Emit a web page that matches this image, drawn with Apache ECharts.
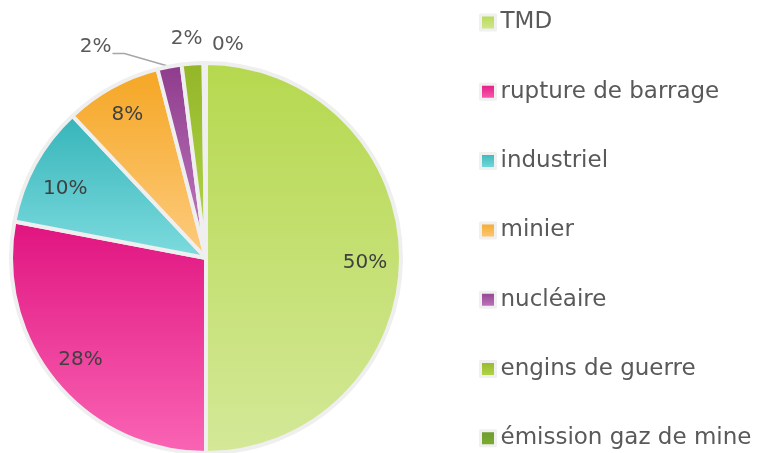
<!DOCTYPE html>
<html>
<head>
<meta charset="utf-8">
<script src="https://cdn.jsdelivr.net/npm/echarts@6/dist/echarts.min.js"></script>
<style>
  html, body { margin: 0; padding: 0; background: #fff; }
  #chart { width: 766px; height: 453px; }
</style>
</head>
<body>
<div id="chart"></div>
<script>
// categories and values (share in %)
const categories = [
  "TMD",
  "rupture de barrage",
  "industriel",
  "minier",
  "nucléaire",
  "engins de guerre",
  "émission gaz de mine",
];
const values = [50, 28, 10, 8, 2, 1.8, 0.2];

// top / bottom colours of each slice gradient
const topColors = ["#b5d84e", "#e0137f", "#35b4b9", "#f5a623", "#8e3b8b", "#93b527", "#6a9a29"];
const bottomColors = ["#d4e898", "#fa65b5", "#7edcdf", "#fdcc80", "#c27fc4", "#b5d84e", "#7fae35"];

// slices whose label sits inside
const insideLabel = [true, true, true, true, false, false, false];

const font = "'DejaVu Sans', sans-serif";

function grad(i) {
  return {
    type: "linear", x: 0, y: 0, x2: 0, y2: 1,
    colorStops: [
      { offset: 0, color: topColors[i] },
      { offset: 1, color: bottomColors[i] },
    ],
  };
}

const pieData = categories.map((name, i) => ({
  name: name,
  value: values[i],
  itemStyle: { color: grad(i) },
  label: { show: !insideLabel[i] },
  labelLine: { show: !insideLabel[i], lineStyle: { opacity: i === 4 ? 1 : 0 } },
}));

const labelData = categories.map((name, i) => ({
  name: name,
  value: values[i],
  label: { show: insideLabel[i] },
}));

// small nudges of the inside labels
const insideShift = [[-4, 5], [0, -2], [2, 9], [0, 0]];

const chart = echarts.init(document.getElementById("chart"));
chart.setOption({
  animation: false,
  legend: {
    orient: "vertical",
    left: 474,
    top: 11,
    padding: [0, 5],
    height: 441,
    itemGap: 46.3,
    itemWidth: 15,
    itemHeight: 15,
    icon: "rect",
    itemStyle: { borderColor: "#f0f0f0", borderWidth: 3 },
    textStyle: { fontFamily: font, fontSize: 23, lineHeight: 22, color: "#595959" },
    data: categories,
  },
  series: [
    {
      type: "pie",
      center: [206, 258],
      radius: 195,
      startAngle: 90,
      clockwise: true,
      percentPrecision: 0,
      avoidLabelOverlap: false,
      label: {
        position: "outside",
        formatter: "{d}%",
        fontFamily: font,
        fontSize: 20,
        color: "#595959",
      },
      labelLine: {
        length: 12,
        length2: 12,
        lineStyle: { color: "#a6a6a6", width: 1.5 },
      },
      labelLayout: function (p) {
        const pts = p.labelLinePoints;
        if (!pts) return {};
        const p0 = pts[0];
        if (p.dataIndex === 4) {
          const p1 = [p0[0] - 45, p0[1] - 13];
          const p2 = [p1[0] - 12, p1[1]];
          return { x: p2[0] - 1, y: p2[1] - 7, align: "right", verticalAlign: "middle", labelLinePoints: [p0, p1, p2] };
        }
        if (p.dataIndex === 5) {
          return { x: p0[0] - 6, y: p0[1] - 25, align: "center", verticalAlign: "middle" };
        }
        if (p.dataIndex === 6) {
          return { x: p0[0] + 23, y: p0[1] - 18, align: "center", verticalAlign: "middle" };
        }
        return {};
      },
      itemStyle: { borderColor: "#efefef", borderWidth: 4 },
      data: pieData,
    },
    {
      // transparent ring used only to place the inside labels
      type: "pie",
      center: [206, 258],
      radius: [125, 195],
      startAngle: 90,
      silent: true,
      legendHoverLink: false,
      percentPrecision: 0,
      itemStyle: { color: "transparent" },
      label: {
        position: "inside",
        formatter: "{d}%",
        fontFamily: font,
        fontSize: 20,
        color: "#404040",
      },
      labelLine: { show: false },
      labelLayout: function (p) {
        const s = insideShift[p.dataIndex];
        return s ? { dx: s[0], dy: s[1] } : {};
      },
      data: labelData,
    },
  ],
});
</script>
</body>
</html>
